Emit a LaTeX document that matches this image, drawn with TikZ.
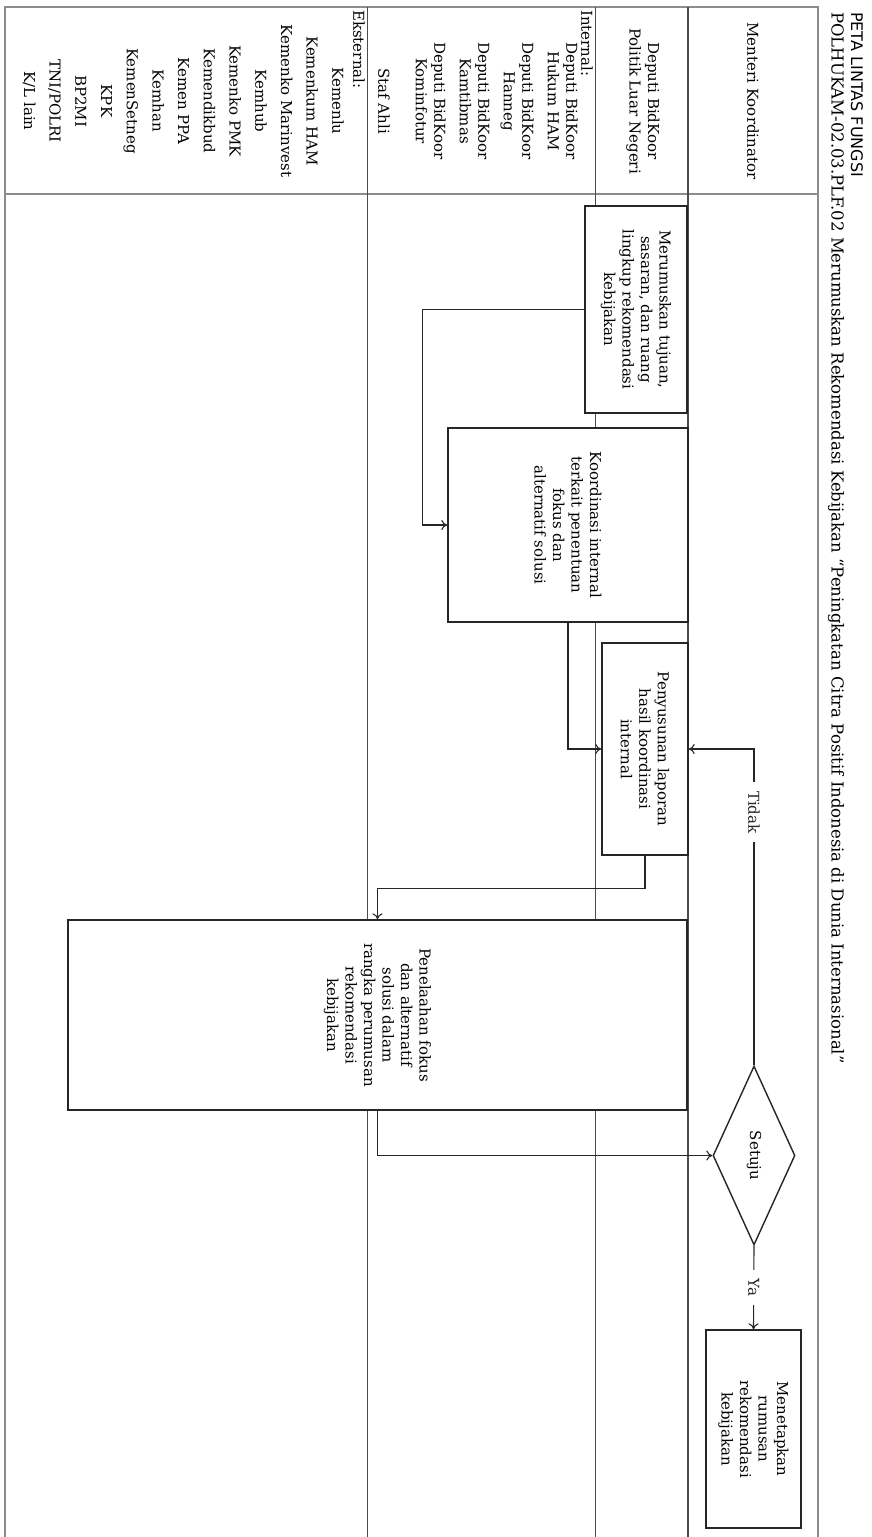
\documentclass[tikz,border=0pt]{standalone}
\usepackage{fontspec}
\setmainfont{DejaVu Serif}
\newfontfamily\titlesans{DejaVu Sans}
\usetikzlibrary{positioning,shapes.geometric,arrows.meta}

\begin{document}
\begin{tikzpicture}[x=1pt, y=1pt, rotate=-90, transform shape,
    every node/.style={font=\fontsize{15}{18.5}\selectfont, inner sep=0pt},
    frame/.style={draw=black!45, line width=2pt},
    lane/.style={draw=black!70, line width=1pt},
    task/.style={draw=black!85, line width=1.4pt, fill=white, align=center},
    decision/.style={diamond, draw=black!85, line width=1.4pt, fill=white, aspect=2.2},
    flow/.style={-{To[length=6pt,width=10pt]}, line width=1.1pt, black!85},
    cond/.style={fill=white, inner sep=9pt}]

    \useasboundingbox (0,0) rectangle (1537,871);

    % Title (drawn sideways, like the whole sheet)
    \node[anchor=west, font=\titlesans\fontsize{16}{18}\selectfont] (title) at (12,857) {PETA LINTAS FUNGSI};
    \node[anchor=west, font=\fontsize{16.5}{18}\selectfont] (subtitle) at (12,836)
        {POLHUKAM-02.03.PLF.02 Merumuskan Rekomendasi Kebijakan “Peningkatan Citra Positif Indonesia di Dunia Internasional”};

    % Frame and lanes
    \draw[frame] (1537,5) -- (7,5) -- (7,818) -- (1537,818);
    \draw[frame] (194,5) -- (194,818);
    \draw[lane, line width=1.6pt] (7,688) -- (1537,688);
    \draw[lane] (7,595) -- (1537,595);
    \draw[lane] (7,367) -- (1537,367);

    % Lane names
    \node (menko) at (101,753) {Menteri Koordinator};
    \node[align=center] (deputi) at (101,643) {Deputi BidKoor\\Politik Luar Negeri};
    \node[anchor=north west] (intlabel) at (10,593) {Internal:};
    \node[align=center, anchor=north] (intlist) at (101,578)
        {Deputi BidKoor\\Hukum HAM\\[7pt]Deputi BidKoor\\Hanneg\\[7pt]Deputi BidKoor\\Kamtibmas\\[7pt]Deputi BidKoor\\Kominfotur\\[19pt]Staf Ahli};
    \node[anchor=north west] (extlabel) at (10,365) {Eksternal:};
    \node[align=center, anchor=north, font=\fontsize{15}{25.7}\selectfont] (extlist) at (101,344)
        {Kemenlu\\Kemenkum HAM\\Kemenko Marinvest\\Kemhub\\Kemenko PMK\\Kemendikbud\\Kemen PPA\\Kemhan\\KemenSetneg\\KPK\\BP2MI\\TNI/POLRI\\K/L lain};

    % Steps
    \node[task, minimum width=207pt, minimum height=102pt] (tujuan) at (309.5,636)
        {Merumuskan tujuan,\\sasaran, dan ruang\\lingkup rekomendasi\\kebijakan};
    \node[task, minimum width=194pt, minimum height=240pt] (koord) at (525,568)
        {Koordinasi internal\\terkait penentuan\\fokus dan\\alternatif solusi};
    \node[task, minimum width=212pt, minimum height=86pt] (lapor) at (749,645)
        {Penyusunan laporan\\hasil koordinasi\\internal};
    \node[task, minimum width=190pt, minimum height=619pt] (telaah) at (1015,377.5)
        {Penelaahan fokus\\dan alternatif\\solusi dalam\\rangka perumusan\\rekomendasi\\kebijakan};
    \node[decision, minimum width=179pt, minimum height=82pt] (setuju) at (1155.5,754) {Setuju};
    \node[task, minimum width=198pt, minimum height=95pt] (tetap) at (1429,753.5)
        {Menetapkan\\rumusan\\rekomendasi\\kebijakan};

    % Flow
    \draw[flow] (tujuan.south) -- ++(0,-162) -| (koord.south);
    \draw[flow] (koord.east) -| (lapor.south);
    \draw[flow] (lapor.east) -- ++(33,0) |- (telaah.west);
    \draw[flow] (telaah.east) -| (setuju.south);
    \draw[flow] (setuju.west) -| node[cond, pos=0.4] (tidak) {Tidak} (lapor.north);
    \draw[flow] (setuju.east) -- node[cond] (ya) {Ya} (tetap.west);

\end{tikzpicture}
\end{document}
